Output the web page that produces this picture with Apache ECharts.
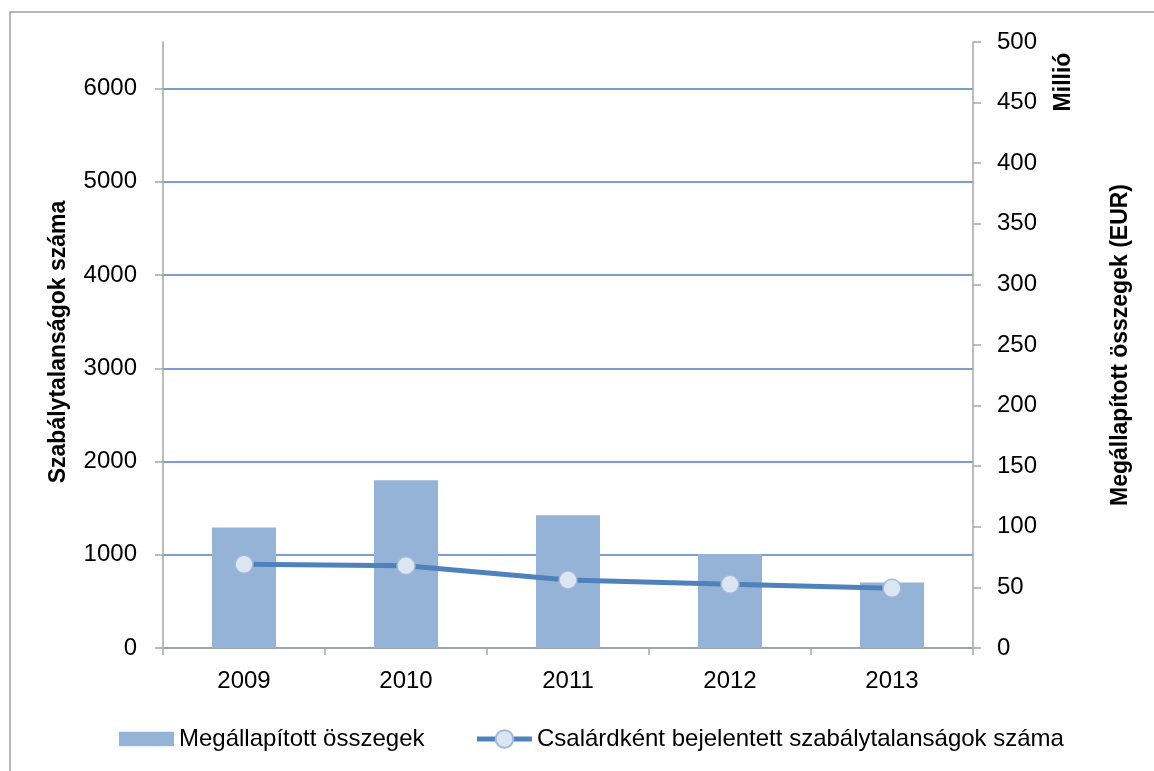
<!DOCTYPE html>
<html>
<head>
<meta charset="utf-8">
<script src="https://cdn.jsdelivr.net/npm/echarts@6/dist/echarts.min.js"></script>
<style>
html,body{margin:0;padding:0;background:#fff;}
#main{width:1154px;height:771px;}
</style>
</head>
<body>
<div id="main"></div>
<script>
const categories = ['2009', '2010', '2011', '2012', '2013'];
const amountsMillionEUR = [99.5, 138.5, 109.5, 77.5, 54];
const fraudCounts = [897, 882, 729, 683, 640];
const leftTicks = [0, 1000, 2000, 3000, 4000, 5000, 6000];
const barName = 'Megállapított összegek';
const lineName = 'Csalárdként bejelentett szabálytalanságok száma';
const leftTitle = 'Szabálytalanságok száma';
const rightTitle = 'Megállapított összegek (EUR)';
const rightUnit = 'Millió';

const FONT = 'Liberation Sans';
const axisGray = '#A6A6A6';
const titleFont = 'bold 23px "Liberation Sans"';

const chart = echarts.init(document.getElementById('main'));
chart.setOption({
  animation: false,
  textStyle: { fontFamily: FONT },
  grid: { left: 163, right: 181, top: 42, bottom: 123, containLabel: false },
  graphic: [
    { type: 'rect', shape: { x: 10, y: 12, width: 1300, height: 900 }, style: { fill: 'none', stroke: '#A0A0A0', lineWidth: 1.5 }, silent: true, z: -10 },
    { type: 'text', x: 59, y: 342, rotation: Math.PI / 2, style: { text: leftTitle, font: titleFont, fill: '#000', align: 'center', verticalAlign: 'middle' } },
    { type: 'text', x: 1121, y: 345, rotation: Math.PI / 2, style: { text: rightTitle, font: titleFont, fill: '#000', align: 'center', verticalAlign: 'middle' } },
    { type: 'text', x: 1064, y: 82, rotation: Math.PI / 2, style: { text: rightUnit, font: titleFont, fill: '#000', align: 'center', verticalAlign: 'middle' } }
  ],
  legend: {
    left: 119, top: 727, padding: 0,
    itemWidth: 55, itemHeight: 22, itemGap: 50,
    textStyle: { fontSize: 24, color: '#000', fontFamily: FONT },
    data: [
      { name: barName, icon: 'path://M0,0L52,0L52,13.5L0,13.5Z' },
      { name: lineName, lineStyle: { width: 5, color: '#4F81BD' } }
    ]
  },
  xAxis: {
    type: 'category',
    data: categories,
    boundaryGap: true,
    axisLine: { lineStyle: { color: axisGray, width: 1.5 } },
    axisTick: { show: true, length: 7, lineStyle: { color: axisGray, width: 1.5 } },
    axisLabel: { fontSize: 24, color: '#000', margin: 21 },
    splitLine: { show: false }
  },
  yAxis: [
    {
      type: 'value', position: 'left', min: 0, max: 6500, interval: 1000,
      axisLine: { show: true, lineStyle: { color: axisGray, width: 1.5 } },
      axisTick: { show: true, length: 8, customValues: leftTicks, lineStyle: { color: axisGray, width: 1.5 } },
      axisLabel: { fontSize: 24, color: '#000', margin: 26, customValues: leftTicks, formatter: v => String(v) },
      splitLine: { show: true, lineStyle: { color: '#4F81BD', width: 1.5 } }
    },
    {
      type: 'value', position: 'right', min: 0, max: 500, interval: 50,
      axisLine: { show: true, lineStyle: { color: axisGray, width: 1.5 } },
      axisTick: { show: true, length: 8, lineStyle: { color: axisGray, width: 1.5 } },
      axisLabel: { fontSize: 24, color: '#000', margin: 24, formatter: v => String(v) },
      splitLine: { show: false }
    }
  ],
  series: [
    {
      name: barName, type: 'bar', yAxisIndex: 1, data: amountsMillionEUR,
      barWidth: 64, itemStyle: { color: '#95B3D7' }, z: 2
    },
    {
      name: lineName, type: 'line', yAxisIndex: 0, data: fraudCounts,
      symbol: 'circle', symbolSize: 18,
      lineStyle: { color: '#4F81BD', width: 5 },
      itemStyle: { color: '#DCE6F2', borderColor: '#A3B8DA', borderWidth: 1.5 },
      z: 3
    }
  ]
});
</script>
</body>
</html>
